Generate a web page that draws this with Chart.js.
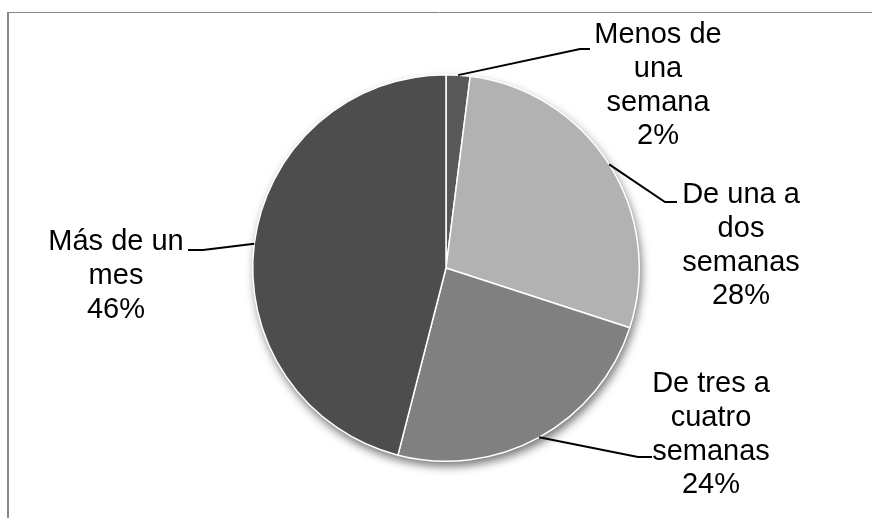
<!DOCTYPE html>
<html>
<head>
<meta charset="utf-8">
<script src="https://cdn.jsdelivr.net/npm/chart.js@4/dist/chart.umd.min.js"></script>
<style>
    html, body { margin: 0; padding: 0; background: #fff; }
    #wrap { width: 872px; height: 518px; position: relative; }
</style>
</head>
<body>
<div id="wrap"><canvas id="pieChart" width="872" height="518"></canvas></div>
<script>
// Slices, clockwise from twelve o'clock
const categoryLines = [
    ['Menos de', 'una', 'semana'],
    ['De una a', 'dos', 'semanas'],
    ['De tres a', 'cuatro', 'semanas'],
    ['Más de un', 'mes']
];
const shares = [2, 28, 24, 46];
const sliceColors = ['#595959', '#b2b2b2', '#808080', '#4d4d4d'];

// Where each label block sits and where its leader line bends
const labelLayout = [
    { x: 658, y: 43, elbowX: 580, elbowY: 49, tailX: 590 },
    { x: 741, y: 203, elbowX: 665, elbowY: 202, tailX: 677 },
    { x: 711, y: 392, elbowX: 638, elbowY: 457, tailX: 652 },
    { x: 116, y: 250, elbowX: 203, elbowY: 250, tailX: 188 }
];

// Thin frame on the left and top edges
const framePlugin = {
    id: 'frame',
    beforeDraw(chart) {
        const ctx = chart.ctx;
        ctx.save();
        ctx.strokeStyle = '#878787';
        ctx.lineWidth = 2;
        ctx.beginPath();
        ctx.moveTo(8, chart.height);
        ctx.lineTo(8, 12);
        ctx.stroke();
        ctx.lineWidth = 1;
        ctx.beginPath();
        ctx.moveTo(7, 12.5);
        ctx.lineTo(chart.width, 12.5);
        ctx.stroke();
        ctx.restore();
    }
};

// Soft drop shadow under the whole pie
const shadowPlugin = {
    id: 'pieShadow',
    beforeDatasetsDraw(chart) {
        const arc = chart.getDatasetMeta(0).data[0];
        if (!arc) return;
        const { x, y, outerRadius } = arc.getProps(['x', 'y', 'outerRadius'], true);
        const ctx = chart.ctx;
        ctx.save();
        ctx.shadowColor = 'rgba(0, 0, 0, 0.55)';
        ctx.shadowBlur = 10;
        ctx.shadowOffsetX = 2;
        ctx.shadowOffsetY = 5;
        ctx.fillStyle = '#ffffff';
        ctx.beginPath();
        ctx.arc(x, y, outerRadius, 0, Math.PI * 2);
        ctx.fill();
        ctx.restore();
    }
};

// Category + percentage labels with leader lines
const labelPlugin = {
    id: 'sliceLabels',
    afterDatasetsDraw(chart) {
        const ctx = chart.ctx;
        const meta = chart.getDatasetMeta(0);
        const lineHeight = 33.8;
        ctx.save();
        meta.data.forEach((arc, i) => {
            const p = arc.getProps(['x', 'y', 'startAngle', 'endAngle', 'outerRadius'], true);
            const mid = (p.startAngle + p.endAngle) / 2;
            const ax = p.x + Math.cos(mid) * p.outerRadius;
            const ay = p.y + Math.sin(mid) * p.outerRadius;
            const lay = labelLayout[i];

            ctx.strokeStyle = '#000';
            ctx.lineWidth = 2;
            ctx.beginPath();
            ctx.moveTo(ax, ay);
            ctx.lineTo(lay.elbowX, lay.elbowY);
            ctx.lineTo(lay.tailX, lay.elbowY);
            ctx.stroke();

            const lines = categoryLines[i].concat([shares[i] + '%']);
            ctx.fillStyle = '#000';
            ctx.font = '29px "Liberation Sans", Arial, sans-serif';
            ctx.textAlign = 'center';
            ctx.textBaseline = 'alphabetic';
            lines.forEach((t, j) => {
                ctx.fillText(t, lay.x, lay.y + j * lineHeight);
            });
        });
        ctx.restore();
    }
};

const ctx = document.getElementById('pieChart').getContext('2d');
new Chart(ctx, {
    type: 'pie',
    data: {
        labels: categoryLines.map(l => l.join(' ')),
        datasets: [{
            data: shares,
            backgroundColor: sliceColors,
            borderColor: '#ffffff',
            borderWidth: 1.5,
            hoverOffset: 0,
            offset: 0
        }]
    },
    options: {
        responsive: false,
        animation: false,
        layout: {
            padding: { left: 252, right: 232, top: 74, bottom: 56 }
        },
        plugins: {
            legend: { display: false },
            tooltip: { enabled: false }
        }
    },
    plugins: [framePlugin, shadowPlugin, labelPlugin]
});
</script>
</body>
</html>
